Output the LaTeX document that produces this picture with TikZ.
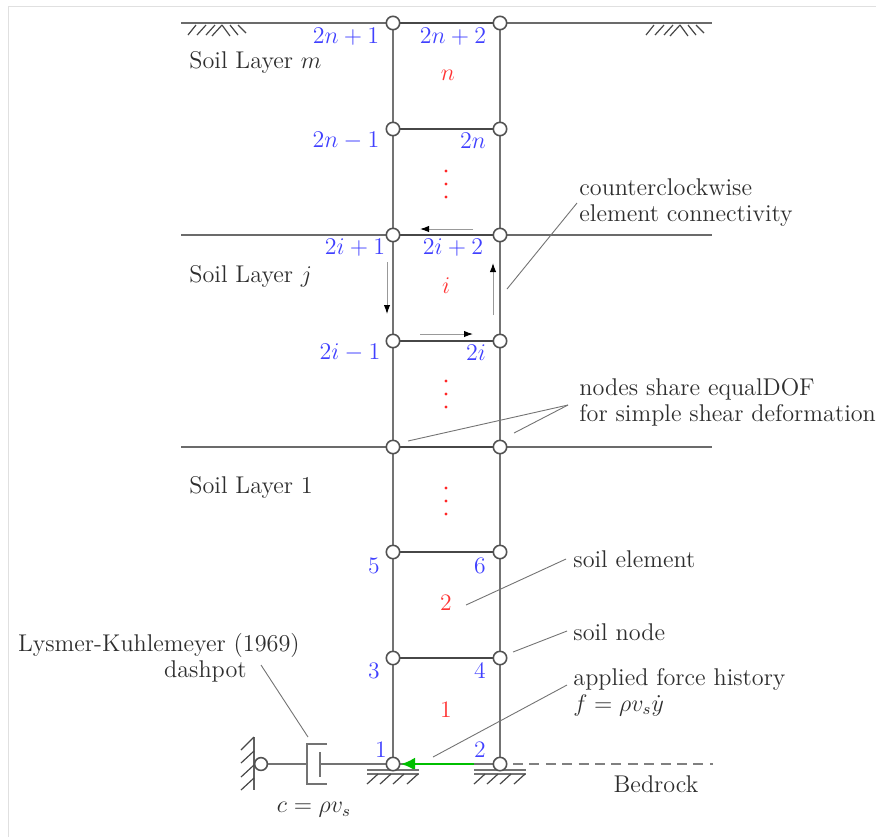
\documentclass[tikz,border=0pt]{standalone}
\usepackage{amsmath}
\usetikzlibrary{arrows.meta}
\begin{document}
\begin{tikzpicture}[x=0.5pt,y=-0.5pt,
  every node/.style={font=\fontsize{11.8}{13}\selectfont},
  soilnode/.style={circle,draw=black!68,line width=0.8pt,fill=white,minimum size=6.7pt,inner sep=0pt},
  layerline/.style={draw=black!58,line width=0.7pt},
  elemh/.style={draw=black!72,line width=0.85pt},
  elemv/.style={draw=black!55,line width=1pt},
  leader/.style={draw=black!55,line width=0.45pt},
  flow/.style={draw=black!40,line width=0.5pt,-{Latex[black,length=4.5pt,width=3.2pt]}},
  hatchline/.style={draw=black!72,line width=0.6pt},
  dof/.style={text=blue!75},
  elem/.style={text=red!80},
  lbl/.style={text=black!82,align=left,anchor=west,inner sep=0pt,font=\fontsize{12.1}{13}\selectfont},
  rdot/.style={circle,fill=red!85,minimum size=1.6pt,inner sep=0pt},
  frameline/.style={draw=black!12,line width=0.4pt}]
\useasboundingbox (0,0) rectangle (876,837);
\draw[frameline] (8,837) -- (8,6) -- (876,6);
% layer lines
\foreach \y/\n in {23/top,235/mid,447/low}{
  \coordinate (L\n) at (181,\y);
  \coordinate (R\n) at (712,\y);
  \draw[layerline] (L\n) -- (R\n);
}
% nodes positions
\foreach \r/\y in {1/764,2/658,3/552,4/447,5/341,6/235,7/129,8/23}{
  \coordinate (a\r) at (393,\y);
  \coordinate (b\r) at (500,\y);
}
\draw[elemv] (a1) -- (a8);
\draw[elemv] (b1) -- (b8);
\foreach \r in {2,3,4,5,6,7,8}{ \draw[elemh] (a\r) -- (b\r); }
\draw[elemv] (a1) -- (b1);
% bedrock dashed
\coordinate (bedA) at (513,764);
\coordinate (bedB) at (713,764);
\draw[draw=black!50,line width=0.7pt,dash pattern=on 5pt off 3.2pt] (bedA) -- (bedB);
% green force
\coordinate (fA) at (474,764);
\coordinate (fB) at (401,764);
\draw[draw=green!75!black,line width=1.2pt,-{Latex[length=7pt,width=6.5pt]}] (fA) -- (fB);
% supports
\foreach \x in {393,500}{
  \draw[draw=black!55,line width=0.55pt] (\x-26,770) -- (\x+26,770);
  \draw[draw=black!55,line width=0.55pt] (\x-26,774) -- (\x+26,774);
  \foreach \d in {-26,-13,0,14}{
    \draw[hatchline] (\x+\d,784) -- (\x+\d+11,774);
  }
}
% surface hatches
\foreach \x in {180,638}{
  \draw[hatchline] (\x+8,35) -- (\x+16,25);
  \draw[hatchline] (\x+17,35) -- (\x+26,25);
  \draw[hatchline] (\x+26,35) -- (\x+35,25);
  \draw[hatchline] (\x+32,36) -- (\x+42,25);
  \draw[hatchline] (\x+42,25) -- (\x+50,36);
  \draw[hatchline] (\x+50,25) -- (\x+58,35);
  \draw[hatchline] (\x+58,25) -- (\x+66,33);
}
% wall
\coordinate (wallA) at (254,737);
\coordinate (wallB) at (254,790);
\draw[draw=black!62,line width=0.8pt] (wallA) -- (wallB);
\draw[hatchline] (254,737) -- (241,750);
\draw[hatchline] (254,751) -- (241,763);
\draw[hatchline] (254,765) -- (241,777);
\draw[hatchline] (254,778) -- (241,790);
% dashpot
\node[soilnode,minimum size=6.4pt] (wallnode) at (261,764) {};
\coordinate (potL) at (307,764);
\coordinate (potR) at (320,764);
\draw[elemv,line width=0.75pt] (wallnode) -- (potL);
\draw[elemv,line width=0.75pt] (327,744) -- (307,744) -- (307,784) -- (327,784);
\draw[elemv,line width=0.75pt] (320,752) -- (320,777);
\draw[elemv,line width=0.75pt] (potR) -- (a1);
% soil nodes
\foreach \r in {1,...,8}{
  \node[soilnode] (na\r) at (a\r) {};
  \node[soilnode] (nb\r) at (b\r) {};
}
% counterclockwise arrows
\coordinate (t1) at (473,229); \coordinate (t2) at (420,229);
\coordinate (r1) at (493,315); \coordinate (r2) at (493,263);
\coordinate (u1) at (420,334); \coordinate (u2) at (473,334);
\coordinate (l1) at (387,262); \coordinate (l2) at (387,314);
\draw[flow] (t1) -- (t2);
\draw[flow] (r1) -- (r2);
\draw[flow] (u1) -- (u2);
\draw[flow] (l1) -- (l2);
% leaders
\coordinate (c1) at (577,203); \coordinate (c2) at (507,289);
\draw[leader] (c1) -- (c2);
\coordinate (e1) at (568,405); \coordinate (e2) at (408,441); \coordinate (e3) at (514,433);
\draw[leader] (e1) -- (e2);
\draw[leader] (e1) -- (e3);
\coordinate (s1) at (566,559); \coordinate (s2) at (466,605);
\draw[leader] (s1) -- (s2);
\coordinate (n1) at (567,631); \coordinate (n2) at (513,652);
\draw[leader] (n1) -- (n2);
\coordinate (f1) at (567,685); \coordinate (f2) at (433,757);
\draw[leader] (f1) -- (f2);
\coordinate (d1) at (261,665); \coordinate (d2) at (308,737);
\draw[leader] (d1) -- (d2);
% DOF labels
\node[dof] (d2n1) at (346,37) {$2n+1$};
\node[dof] (d2n2) at (453,37) {$2n+2$};
\node[dof] (d2nm) at (346,141) {$2n-1$};
\node[dof] (d2nn) at (473,141) {$2n$};
\node[dof] (d2i1) at (355,248) {$2i+1$};
\node[dof] (d2i2) at (453,248) {$2i+2$};
\node[dof] (d2im) at (350,353) {$2i-1$};
\node[dof] (d2ii) at (476,353) {$2i$};
\node[dof] (d5) at (374,566) {5};
\node[dof] (d6) at (480,566) {6};
\node[dof] (d3) at (374,671) {3};
\node[dof] (d4) at (480,671) {4};
\node[dof] (d1n) at (381,750) {1};
\node[dof] (d2n) at (480,750) {2};
% element labels
\node[elem] (en) at (448,75) {$n$};
\node[elem] (ei) at (446,286) {$i$};
\node[elem] (e2l) at (446,603) {2};
\node[elem] (e1l) at (446,710) {1};
% red dots
\foreach \y in {171,184,197,381,394,407,488,501,514}{
  \node[rdot] (dot\y) at (446,\y) {};
}
% text
\node[lbl] (sm) at (189,62) {Soil Layer $m$};
\node[lbl] (sj) at (189,276) {Soil Layer $j$};
\node[lbl] (s1l) at (189,487) {Soil Layer 1};
\node[lbl] (ccw) at (579,203) {counterclockwise\\element connectivity};
\node[lbl] (eq) at (579,402) {nodes share equalDOF\\for simple shear deformation};
\node[lbl] (se) at (573,559) {soil element};
\node[lbl] (sn) at (573,632) {soil node};
\node[lbl] (af) at (573,692) {applied force history\\$f=\rho v_s\dot{y}$};
\node[lbl,anchor=east,align=right] (ly) at (300,658) {Lysmer-Kuhlemeyer (1969)\\dashpot\hspace*{26.5pt}};
\node[lbl,anchor=center] (bed) at (656,784) {Bedrock};
\node[lbl,anchor=center,font=\fontsize{11.8}{13}\selectfont] (cc) at (314,810) {$c=\rho v_s$};
\end{tikzpicture}
\end{document}
